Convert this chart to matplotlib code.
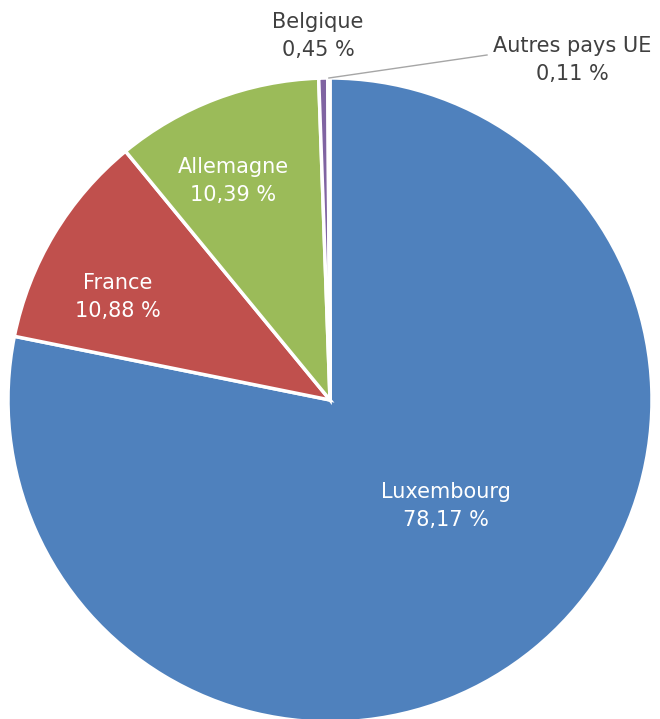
import numpy as np
import matplotlib.pyplot as plt

# --- data -------------------------------------------------------------------
labels = ["Luxembourg", "France", "Allemagne", "Belgique", "Autres pays UE"]
shares = [78.17, 10.88, 10.39, 0.45, 0.11]
colors = ["#4F81BD", "#C0504D", "#9BBB59", "#8064A2", "#4BACC6"]

W, H = 660, 719
CX, CY, R = 330, H - 400, 322   # pie centre / radius in pixel coords

# label centres (pixels from top-left) and text colour
label_pos = [(446, 506), (118, 297), (233, 181), (318, 36), (572, 60)]
label_col = ["white", "white", "white", "#404040", "#404040"]

plt.rcParams["font.family"] = ["DejaVu Sans"]

fig = plt.figure(figsize=(W / 100, H / 100), dpi=100)
ax = fig.add_axes([0, 0, 1, 1])

wedges, _ = ax.pie(shares, colors=colors, startangle=90, counterclock=False,
                   center=(CX, CY), radius=R,
                   wedgeprops=dict(edgecolor="white", linewidth=2.5))
ax.set_xlim(0, W)
ax.set_ylim(0, H)
ax.set_aspect("equal")
ax.axis("off")


def fmt(v):
    return f"{v:.2f}".replace(".", ",") + " %"


for i, w in enumerate(wedges):
    x, y = label_pos[i]
    ax.text(x, H - y, f"{labels[i]}\n{fmt(shares[i])}", ha="center",
            va="center", color=label_col[i], fontsize=15, linespacing=1.5)

# leader line for the tiny "Autres pays UE" slice
w = wedges[4]
ang = np.deg2rad((w.theta1 + w.theta2) / 2)
tip = (CX + R * np.cos(ang), CY + R * np.sin(ang))
ax.plot([tip[0], 487], [tip[1], H - 55], color="#A6A6A6", lw=1)

fig.savefig("out.png", dpi=100)
